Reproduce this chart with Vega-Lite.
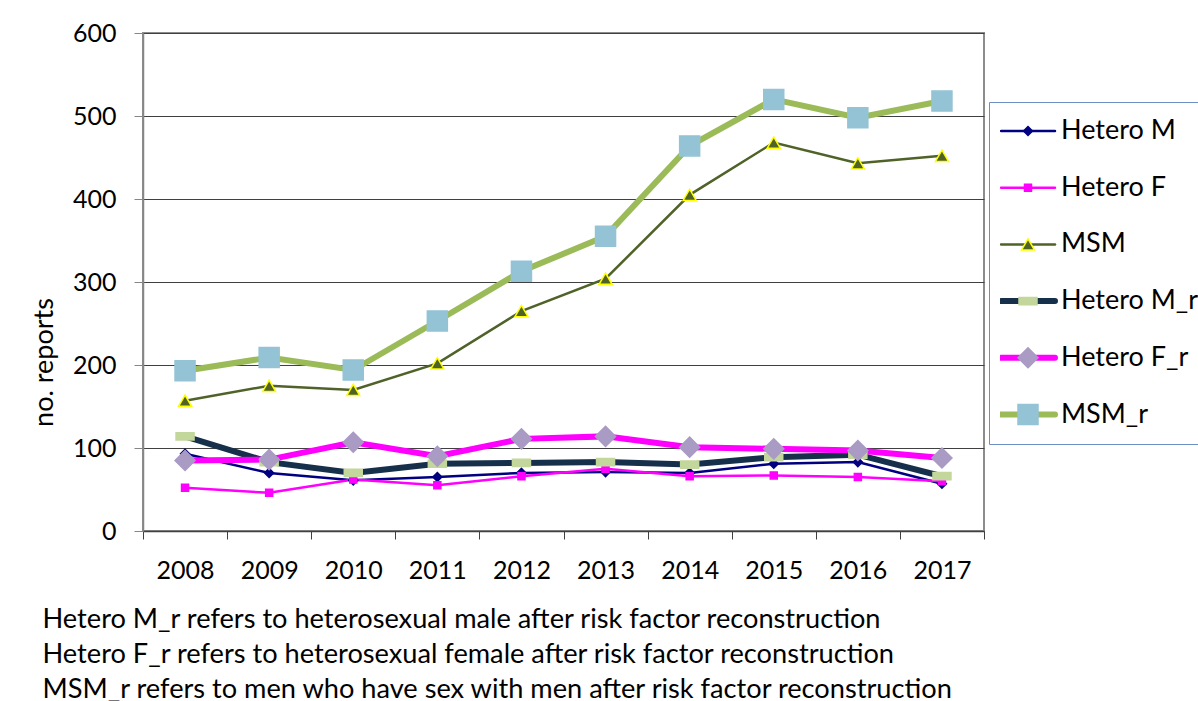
{
  "$schema": "https://vega.github.io/schema/vega-lite/v6.json",
  "width": 841,
  "height": 498,
  "autosize": {"type": "none"},
  "padding": {"left": 143, "top": 33, "right": 214, "bottom": 170},
  "background": "white",
  "config": {
    "font": "Lato",
    "view": {"stroke": "#8c8c8c", "strokeWidth": 2}
  },
  "data": {
    "values": [
      {"year": "2008", "series": "Hetero M", "value": 93},
      {"year": "2009", "series": "Hetero M", "value": 70},
      {"year": "2010", "series": "Hetero M", "value": 61},
      {"year": "2011", "series": "Hetero M", "value": 65},
      {"year": "2012", "series": "Hetero M", "value": 70},
      {"year": "2013", "series": "Hetero M", "value": 71},
      {"year": "2014", "series": "Hetero M", "value": 70},
      {"year": "2015", "series": "Hetero M", "value": 81},
      {"year": "2016", "series": "Hetero M", "value": 83},
      {"year": "2017", "series": "Hetero M", "value": 57},
      {"year": "2008", "series": "Hetero F", "value": 52},
      {"year": "2009", "series": "Hetero F", "value": 46},
      {"year": "2010", "series": "Hetero F", "value": 62},
      {"year": "2011", "series": "Hetero F", "value": 55},
      {"year": "2012", "series": "Hetero F", "value": 66},
      {"year": "2013", "series": "Hetero F", "value": 75},
      {"year": "2014", "series": "Hetero F", "value": 66},
      {"year": "2015", "series": "Hetero F", "value": 67},
      {"year": "2016", "series": "Hetero F", "value": 65},
      {"year": "2017", "series": "Hetero F", "value": 60},
      {"year": "2008", "series": "MSM", "value": 157},
      {"year": "2009", "series": "MSM", "value": 175},
      {"year": "2010", "series": "MSM", "value": 170},
      {"year": "2011", "series": "MSM", "value": 202},
      {"year": "2012", "series": "MSM", "value": 265},
      {"year": "2013", "series": "MSM", "value": 304},
      {"year": "2014", "series": "MSM", "value": 405},
      {"year": "2015", "series": "MSM", "value": 468},
      {"year": "2016", "series": "MSM", "value": 443},
      {"year": "2017", "series": "MSM", "value": 452},
      {"year": "2008", "series": "Hetero M_r", "value": 114},
      {"year": "2009", "series": "Hetero M_r", "value": 83},
      {"year": "2010", "series": "Hetero M_r", "value": 70},
      {"year": "2011", "series": "Hetero M_r", "value": 81},
      {"year": "2012", "series": "Hetero M_r", "value": 82},
      {"year": "2013", "series": "Hetero M_r", "value": 83},
      {"year": "2014", "series": "Hetero M_r", "value": 80},
      {"year": "2015", "series": "Hetero M_r", "value": 89},
      {"year": "2016", "series": "Hetero M_r", "value": 92},
      {"year": "2017", "series": "Hetero M_r", "value": 66},
      {"year": "2008", "series": "Hetero F_r", "value": 85},
      {"year": "2009", "series": "Hetero F_r", "value": 86},
      {"year": "2010", "series": "Hetero F_r", "value": 107},
      {"year": "2011", "series": "Hetero F_r", "value": 90},
      {"year": "2012", "series": "Hetero F_r", "value": 111},
      {"year": "2013", "series": "Hetero F_r", "value": 114},
      {"year": "2014", "series": "Hetero F_r", "value": 101},
      {"year": "2015", "series": "Hetero F_r", "value": 99},
      {"year": "2016", "series": "Hetero F_r", "value": 97},
      {"year": "2017", "series": "Hetero F_r", "value": 88},
      {"year": "2008", "series": "MSM_r", "value": 193},
      {"year": "2009", "series": "MSM_r", "value": 209},
      {"year": "2010", "series": "MSM_r", "value": 194},
      {"year": "2011", "series": "MSM_r", "value": 253},
      {"year": "2012", "series": "MSM_r", "value": 313},
      {"year": "2013", "series": "MSM_r", "value": 355},
      {"year": "2014", "series": "MSM_r", "value": 464},
      {"year": "2015", "series": "MSM_r", "value": 520},
      {"year": "2016", "series": "MSM_r", "value": 498},
      {"year": "2017", "series": "MSM_r", "value": 518}
    ]
  },
  "encoding": {
    "x": {
      "field": "year",
      "type": "ordinal",
      "scale": {"type": "band", "paddingInner": 0, "paddingOuter": 0},
      "axis": {
        "title": [
          "Hetero M_r refers to heterosexual male after risk factor reconstruction",
          "Hetero F_r refers to heterosexual female after risk factor reconstruction",
          "MSM_r refers to men who have sex with men after risk factor reconstruction"
        ],
        "titleX": -101,
        "titleY": 96,
        "titleAlign": "left",
        "titleBaseline": "alphabetic",
        "titleLineHeight": 35,
        "titleFontSize": 27.2,
        "titleFontWeight": "normal",
        "titleColor": "black",
        "labelAngle": 0,
        "labelFontSize": 25,
        "labelColor": "black",
        "labelPadding": 19,
        "tickBand": "extent",
        "tickSize": 8,
        "tickColor": "#404040",
        "domainColor": "#404040",
        "domainWidth": 1.5,
        "grid": false
      }
    },
    "y": {
      "field": "value",
      "type": "quantitative",
      "scale": {"domain": [0, 600], "nice": false},
      "axis": {
        "values": [0, 100, 200, 300, 400, 500, 600],
        "title": "no. reports",
        "titleFontSize": 27,
        "titleFontWeight": "normal",
        "titleColor": "black",
        "titleX": -99,
        "titleY": 329,
        "titleAngle": -90,
        "titleAlign": "center",
        "titleBaseline": "middle",
        "labelFontSize": 25,
        "labelColor": "black",
        "labelPadding": 18,
        "tickSize": 9,
        "tickColor": "#868686",
        "domainColor": "#868686",
        "domainWidth": 1.5,
        "gridColor": "#404040",
        "gridWidth": 1.2
      }
    }
  },
  "layer": [
    {
      "transform": [{"filter": {"field": "series", "oneOf": ["Hetero M", "Hetero F", "MSM"]}}],
      "mark": {"type": "line", "strokeWidth": 2.5},
      "encoding": {
        "color": {
          "field": "series",
          "type": "nominal",
          "scale": {
            "domain": ["Hetero M", "Hetero F", "MSM", "Hetero M_r", "Hetero F_r", "MSM_r"],
            "range": ["#000080", "#FF00FF", "#4F6228", "#162F4B", "#FF00FF", "#9BBB59"]
          },
          "legend": {
            "title": null,
            "orient": "none",
            "legendX": 846,
            "legendY": 69,
            "padding": 11,
            "strokeColor": "#6d8fc4",
            "symbolType": "M-5.4,0H5.4",
            "symbolSize": 100,
            "symbolStrokeWidth": 2.5,
            "symbolOffset": 14.5,
            "clipHeight": 36,
            "rowPadding": 20.7,
            "labelFontSize": 27,
            "labelColor": "black",
            "labelOffset": 19.5,
            "labelLimit": 300,
            "encode": {
              "symbols": {
                "update": {
                  "size": {"signal": "100"},
                  "strokeWidth": {"signal": "indexof(['Hetero M_r','Hetero F_r','MSM_r'], isObject(datum) ? datum.value : datum) >= 0 ? 6 : 2.5"},
                  "strokeCap": {"value": "round"}
                }
              }
            }
          }
        }
      }
    },
    {
      "transform": [{"filter": {"field": "series", "oneOf": ["Hetero M_r", "Hetero F_r", "MSM_r"]}}],
      "mark": {"type": "line", "strokeWidth": 6},
      "encoding": {
        "color": {
          "field": "series",
          "type": "nominal",
          "scale": {
            "domain": ["Hetero M", "Hetero F", "MSM", "Hetero M_r", "Hetero F_r", "MSM_r"],
            "range": ["#000080", "#FF00FF", "#4F6228", "#162F4B", "#FF00FF", "#9BBB59"]
          }
        }
      }
    },
    {
      "mark": {"type": "point", "filled": true, "opacity": 1, "strokeWidth": 1.5},
      "encoding": {
        "shape": {
          "field": "series",
          "type": "nominal",
          "sort": ["Hetero M", "Hetero F", "MSM", "Hetero M_r", "Hetero F_r", "MSM_r"],
          "scale": {"range": ["diamond", "square", "triangle-up", "M-1,-0.4H1V0.4H-1Z", "diamond", "square"]},
          "legend": null
        },
        "fill": {
          "field": "series",
          "type": "nominal",
          "sort": ["Hetero M", "Hetero F", "MSM", "Hetero M_r", "Hetero F_r", "MSM_r"],
          "scale": {"range": ["#000080", "#FF00FF", "#4F6228", "#C3D69B", "#A99BC4", "#93C3D5"]},
          "legend": {
            "title": null,
            "orient": "none",
            "legendX": 846,
            "legendY": 69,
            "padding": 11,
            "symbolStrokeWidth": 1.5,
            "symbolOpacity": 1,
            "symbolOffset": 14.5,
            "clipHeight": 36,
            "rowPadding": 20.7,
            "labelFontSize": 27,
            "labelOpacity": 0,
            "labelOffset": 19.5,
            "encode": {
              "symbols": {
                "update": {
                  "fill": {"signal": "scale('fill', isObject(datum) ? datum.value : datum)"},
                  "stroke": {"signal": "scale('stroke', isObject(datum) ? datum.value : datum)"},
                  "size": {"signal": "scale('size', isObject(datum) ? datum.value : datum)"},
                  "shape": {"signal": "scale('shape', isObject(datum) ? datum.value : datum)"},
                  "strokeWidth": {"signal": "1.5"},
                  "opacity": {"signal": "1"}
                }
              }
            }
          }
        },
        "stroke": {
          "field": "series",
          "type": "nominal",
          "sort": ["Hetero M", "Hetero F", "MSM", "Hetero M_r", "Hetero F_r", "MSM_r"],
          "scale": {"range": ["#000080", "#FF00FF", "#FFFF00", "#C3D69B", "#A99BC4", "#93C3D5"]},
          "legend": null
        },
        "size": {
          "field": "series",
          "type": "ordinal",
          "sort": ["Hetero M", "Hetero F", "MSM", "Hetero M_r", "Hetero F_r", "MSM_r"],
          "scale": {"type": "ordinal", "range": [81, 49, 169, 324, 400, 400]},
          "legend": null
        }
      }
    }
  ]
}
